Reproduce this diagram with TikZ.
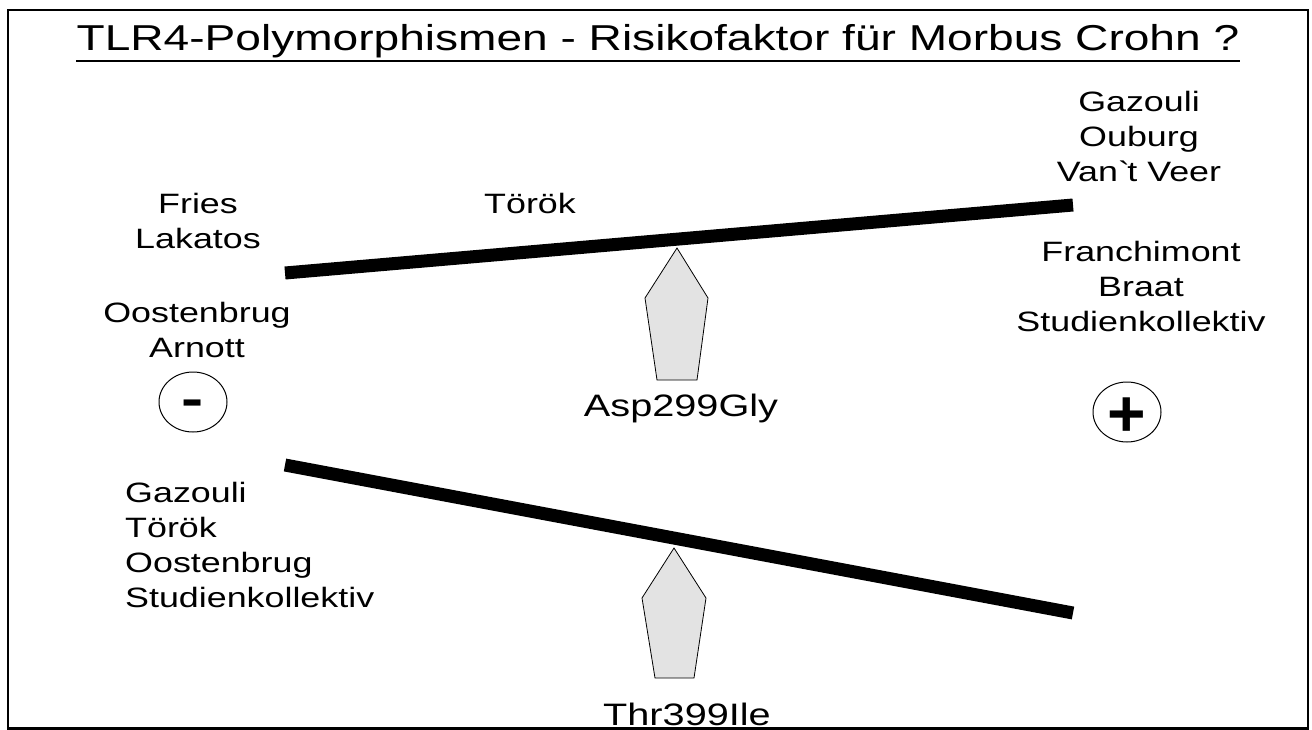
\documentclass[tikz,border=0pt]{standalone}
\usepackage{fontspec}
\setmainfont{Liberation Sans}[FakeStretch=1.28]
\newfontfamily\signfont{Liberation Sans}
\usetikzlibrary{shapes.geometric}
\begin{document}
\begin{tikzpicture}[x=1pt,y=-1pt,
  lbl/.style={font=\fontsize{28}{35}\selectfont, align=center, inner sep=0pt},
  big/.style={font=\fontsize{31}{31}\selectfont, inner sep=0pt, anchor=base},
  beam/.style={line width=13pt},
  pivot/.style={draw, fill=black!11, line width=0.8pt},
  sign/.style={draw, ellipse, minimum width=68pt, minimum height=60pt, inner sep=0pt, line width=1pt}]
\clip (0,0) rectangle (1312,729);
\draw[line width=2.8pt] (8,10) rectangle (1308,728.5);

\node[font=\fontsize{36}{36}\selectfont, anchor=base, inner sep=0pt] (title) at (658,50) {TLR4-Polymorphismen - Risikofaktor für Morbus Crohn ?};
\draw[line width=2pt] ([yshift=-11pt]title.base west) -- ([yshift=-11pt]title.base east);

% balance for Asp299Gly
\coordinate (u1) at (285,273);
\coordinate (u2) at (1073,205);
\draw[beam] (u1) -- (u2);
\draw[pivot] (677,248) -- (708,298) -- (697,380) -- (657,380) -- (645,298) -- cycle;
\node[big] (asp) at (681,416) {Asp299Gly};

% balance for Thr399Ile
\coordinate (l1) at (285,465);
\coordinate (l2) at (1073,613);
\draw[beam] (l1) -- (l2);
\draw[pivot] (674,548) -- (706,598) -- (694,678) -- (655,678) -- (642,598) -- cycle;
\node[big] (thr) at (687,725) {Thr399Ile};

\node[sign] (minus) at (193,402) {};
\node[font=\fontsize{52}{52}\selectfont\bfseries, yshift=-6pt] at (minus) {-};
\node[sign] (plus) at (1127,412) {};
\node[font=\fontsize{66}{66}\selectfont\signfont\bfseries, yshift=-5pt] at (plus) {+};

\node[lbl] (ra) at (1139,136) {Gazouli\\Ouburg\\Van\textasciigrave t Veer};
\node[lbl] (rb) at (1141,286) {Franchimont\\Braat\\Studienkollektiv};
\node[lbl] (la) at (198,221) {Fries\\Lakatos};
\node[lbl] (lb) at (197,330) {Oostenbrug\\Arnott};
\node[lbl] (mid) at (530,203) {Török};
\node[lbl, align=left, anchor=west] (lc) at (125,545) {Gazouli\\Török\\Oostenbrug\\Studienkollektiv};

\end{tikzpicture}
\end{document}
